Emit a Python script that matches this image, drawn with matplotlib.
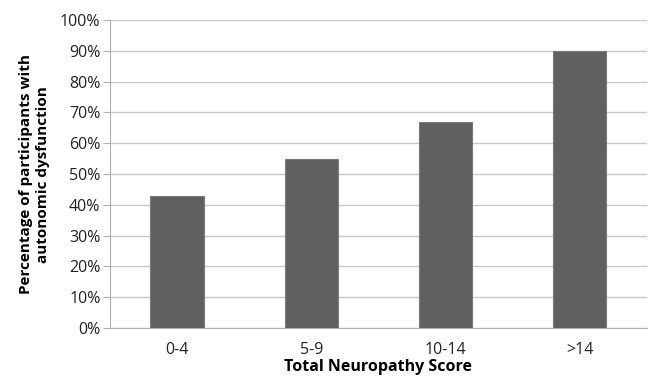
import matplotlib
matplotlib.use("Agg")
import matplotlib.pyplot as plt
from matplotlib.ticker import PercentFormatter

categories = ["0-4", "5-9", "10-14", ">14"]
values = [43, 55, 67, 90]

plt.rcParams['font.family'] = ['Open Sans', 'DejaVu Sans']

fig = plt.figure(figsize=(6.48, 3.78), dpi=100)
ax = fig.add_axes([0.17, 0.132, 0.828, 0.815])

ax.bar(range(len(categories)), values, width=0.4, color="#606060",
       edgecolor="#7a7a7a", linewidth=0.8, zorder=3)

ax.set_xlim(-0.5, len(categories) - 0.5)
ax.set_ylim(0, 100)
ax.set_yticks(range(0, 101, 10))
ax.yaxis.set_major_formatter(PercentFormatter(decimals=0))
ax.set_xticks(range(len(categories)))
ax.set_xticklabels(categories)

ax.grid(axis="y", color="#c8c8c8", linewidth=1, zorder=0)
for s in ["top", "right"]:
    ax.spines[s].set_visible(False)
ax.spines["left"].set_color("#b0b0b0")
ax.spines["bottom"].set_color("#b0b0b0")
ax.tick_params(axis="x", length=0, pad=10, labelsize=11.5, colors="#222222")
ax.tick_params(axis="y", length=5, color="#b0b0b0", labelsize=11.5, colors="#222222", pad=2)
for lbl in ax.get_yticklabels() + ax.get_xticklabels():
    lbl.set_color("#222222")

ax.set_xlabel("Total Neuropathy Score", fontsize=11.5, fontweight="bold", labelpad=1)
ax.set_ylabel("Percentage of participants with\nautonomic dysfunction", fontsize=11,
              fontweight="bold", labelpad=7, linespacing=1.3)

fig.savefig("out.png", dpi=100)
